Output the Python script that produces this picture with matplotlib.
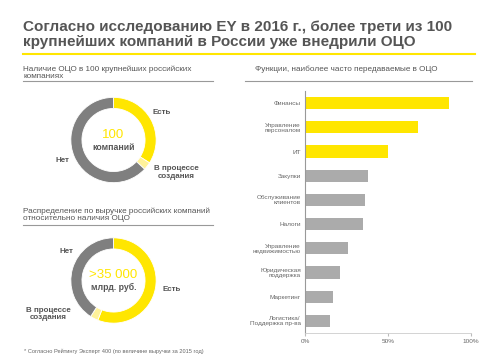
import matplotlib
matplotlib.use("Agg")
import matplotlib.pyplot as plt
from matplotlib.lines import Line2D

plt.rcParams['font.family'] = ['Liberation Sans', 'DejaVu Sans']

W, H = 492, 356
YEL = '#FFE600'
PALE = '#FFF29A'
DGRAY = '#7F7F7F'
BGRAY = '#ABABAB'
TXT = '#555555'

title = "Согласно исследованию EY в 2016 г., более трети из 100\nкрупнейших компаний в России уже внедрили ОЦО"
sub1 = "Наличие ОЦО в 100 крупнейших российских\nкомпаниях"
sub2 = "Распределение по выручке российских компаний\nотносительно наличия ОЦО"
sub3 = "Функции, наиболее часто передаваемые в ОЦО"
footnote = "* Согласно Рейтингу Эксперт 400 (по величине выручки за 2015 год)"

donut_labels = ["Есть", "В процессе\nсоздания", "Нет"]
donut1_values = [34, 3, 63]
donut2_values = [56, 3, 41]

functions = ["Финансы", "Управление\nперсоналом", "ИТ", "Закупки", "Обслуживание\nклиентов",
             "Налоги", "Управление\nнедвижимостью", "Юридическая\nподдержка", "Маркетинг",
             "Логистика/\nПоддержка пр-ва"]
shares = [87, 68, 50, 38, 36, 35, 26, 21, 17, 15]
bar_colors = [YEL, YEL, YEL] + [BGRAY] * 7
xticks = [0, 50, 100]
xtick_labels = ["0%", "50%", "100%"]

fig = plt.figure(figsize=(W / 100, H / 100), dpi=100)
fig.patch.set_facecolor('white')

def fx(x):
    return x / W

def fy(y):
    return 1 - y / H

def hline(x0, x1, y, color, lw):
    fig.add_artist(Line2D([fx(x0), fx(x1)], [fy(y), fy(y)], color=color, lw=lw,
                          transform=fig.transFigure))

# Title
fig.text(fx(23), fy(34.5), title, fontsize=11, fontweight='bold', color=TXT,
         ha='left', va='center', linespacing=1.1)
hline(23, 475, 53.5, YEL, 1.5)

# Subtitles
fig.text(fx(23), fy(72.5), sub1, fontsize=5.9, color=TXT, ha='left', va='center', linespacing=1.05)
hline(23, 213, 81, '#999999', 0.8)
fig.text(fx(23), fy(215), sub2, fontsize=5.9, color=TXT, ha='left', va='center', linespacing=1.05)
hline(23, 213, 224.5, '#999999', 0.8)
fig.text(fx(255), fy(69.5), sub3, fontsize=5.9, color=TXT, ha='left', va='center')
hline(245, 472, 81, '#999999', 0.8)

fig.text(fx(24), fy(351), footnote, fontsize=4.1, color='#666666', ha='left', va='center')

def donut(cx, cy, r, values, center_big, center_small):
    ax = fig.add_axes([fx(cx - r), fy(cy + r), (2 * r) / W, (2 * r) / H])
    ax.pie(values, colors=[YEL, PALE, DGRAY], startangle=90, counterclock=False,
           radius=1.0, wedgeprops=dict(width=0.26, edgecolor='white', linewidth=0.6))
    ax.set_xlim(-1.02, 1.02)
    ax.set_ylim(-1.02, 1.02)
    ax.axis('off')
    fig.text(fx(cx), fy(cy - 5), center_big, fontsize=9.5, color=YEL, ha='center', va='center')
    fig.text(fx(cx), fy(cy + 7), center_small, fontsize=6.3, fontweight='bold', color=TXT,
             ha='center', va='center')
    return ax

donut(113.5, 140, 43.5, donut1_values, "100", "компаний")
fig.text(fx(161.5), fy(112.5), donut_labels[0], fontsize=5.8, fontweight='bold', color=TXT, ha='center', va='center')
fig.text(fx(176.5), fy(172.5), donut_labels[1], fontsize=5.8, fontweight='bold', color=TXT, ha='center', va='center', linespacing=1.15)
fig.text(fx(62.5), fy(160), donut_labels[2], fontsize=5.8, fontweight='bold', color=TXT, ha='center', va='center')

donut(113.5, 280.5, 43.5, donut2_values, ">35 000", "млрд. руб.")
fig.text(fx(171.5), fy(289.5), donut_labels[0], fontsize=5.8, fontweight='bold', color=TXT, ha='center', va='center')
fig.text(fx(48.5), fy(314), donut_labels[1], fontsize=5.8, fontweight='bold', color=TXT, ha='center', va='center', linespacing=1.15)
fig.text(fx(66.5), fy(251.5), donut_labels[2], fontsize=5.8, fontweight='bold', color=TXT, ha='center', va='center')

# Bar chart
bx = fig.add_axes([fx(305), fy(333), 166 / W, 242 / H])
pos = list(range(len(functions)))
bx.barh(pos, shares, height=0.5, color=bar_colors)
bx.set_ylim(len(functions) - 0.5, -0.5)
bx.set_xlim(0, 100)
bx.set_yticks(pos)
bx.set_yticklabels(functions, fontsize=4.6, color='#666666', linespacing=1.0)
bx.set_xticks(xticks)
bx.set_xticklabels(xtick_labels, fontsize=4.6, color='#666666')
bx.tick_params(axis='y', length=0, pad=3)
bx.tick_params(axis='x', length=2, color='#bbbbbb', pad=2)
for s in ['top', 'right']:
    bx.spines[s].set_visible(False)
bx.spines['left'].set_color('#999999')
bx.spines['left'].set_linewidth(0.8)
bx.spines['bottom'].set_color('#cccccc')
bx.spines['bottom'].set_linewidth(0.6)

fig.savefig('out.png', dpi=100, facecolor='white')
